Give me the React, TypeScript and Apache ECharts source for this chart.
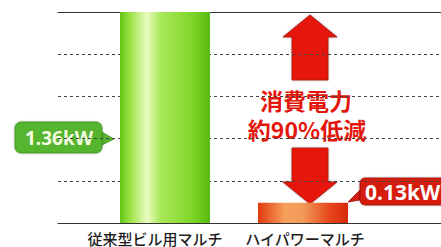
import React, { useEffect, useRef } from "react";
import * as echarts from "echarts";

const categories = ["従来型ビル用マルチ", "ハイパワーマルチ"];
const powerKW = [1.36, 0.13];
const unit = "kW";
const reductionLines = ["消費電力", "約90%低減"];

export default function App() {
  const ref = useRef<HTMLDivElement>(null);
  useEffect(() => {
    if (!ref.current) return;
    const chart = echarts.init(ref.current, undefined, { renderer: "svg" });
    const yMax = powerKW[0];
    const greenGrad = new echarts.graphic.LinearGradient(0, 0, 1, 0, [
      { offset: 0, color: "#62c414" },
      { offset: 0.12, color: "#9ee44a" },
      { offset: 0.3, color: "#eafcc0" },
      { offset: 0.45, color: "#a8e85a" },
      { offset: 0.8, color: "#80d628" },
      { offset: 1, color: "#58bb10" },
    ]);
    const redGrad = new echarts.graphic.LinearGradient(0, 0, 1, 0, [
      { offset: 0, color: "#e2380e" },
      { offset: 0.3, color: "#f6a15c" },
      { offset: 0.5, color: "#f39a58" },
      { offset: 0.8, color: "#e6461a" },
      { offset: 1, color: "#d62a0c" },
    ]);
    const arrowColor = "#e6170d";
    const labelStyle = { fontSize: 15, lineHeight: 16, color: "#1e1e1e", fontFamily: "Noto Sans CJK JP", fontWeight: 500 };
    const bigText = {
      fontSize: 23,
      fontWeight: "bold",
      fontFamily: "Noto Sans CJK JP",
      fill: "#e3160c",
      stroke: "#ffffff",
      lineWidth: 3,
      align: "center",
      verticalAlign: "middle",
    };
    chart.setOption({
      animation: false,
      grid: [
        { left: 58, right: 0, top: 12, bottom: 24 },
        { left: 96, right: 69, top: 12, bottom: 24 },
      ],
      xAxis: [
        {
          gridIndex: 0,
          type: "value",
          min: 0,
          max: 1,
          position: "bottom",
          axisLine: { show: true, lineStyle: { color: "#333", width: 1.2 } },
          axisTick: { show: false },
          axisLabel: { show: false },
          splitLine: { show: false },
        },
        {
          gridIndex: 0,
          type: "value",
          min: 0,
          max: 1,
          position: "top",
          axisLine: { show: true, onZero: false, lineStyle: { color: "#333", width: 1.2 } },
          axisTick: { show: false },
          axisLabel: { show: false },
          splitLine: { show: false },
        },
        {
          gridIndex: 1,
          type: "category",
          data: categories,
          axisLine: { show: false },
          axisTick: { show: false },
          axisLabel: {
            interval: 0,
            hideOverlap: false,
            margin: 7,
            ...labelStyle,
            formatter: (v: string, i: number) => (i === 0 ? `{a|${v}}` : `{b|${v}}`),
            rich: {
              a: { ...labelStyle, padding: [0, 20, 0, 0] },
              b: { ...labelStyle, padding: [0, 0, 0, 4] },
            },
          },
        },
      ],
      yAxis: [
        {
          gridIndex: 0,
          type: "value",
          min: 0,
          max: yMax,
          interval: yMax / 5,
          axisLine: { show: false },
          axisTick: { show: false },
          axisLabel: { show: false },
          splitLine: { show: true, lineStyle: { color: "#444", type: [3, 3], width: 1 } },
        },
        {
          gridIndex: 1,
          type: "value",
          min: 0,
          max: yMax,
          show: false,
          splitLine: { show: false },
        },
      ],
      series: [
        {
          type: "bar",
          xAxisIndex: 2,
          yAxisIndex: 1,
          barWidth: 90,
          data: [
            { value: powerKW[0], itemStyle: { color: greenGrad } },
            { value: powerKW[1], itemStyle: { color: redGrad } },
          ],
        },
      ],
      graphic: [
        {
          type: "polygon",
          shape: {
            points: [
              [310, 15], [337, 37], [328, 37], [328, 80], [292, 80], [292, 37], [283, 37],
            ],
          },
          style: { fill: arrowColor, stroke: "#a8120a", lineWidth: 0.8, shadowBlur: 2, shadowColor: "rgba(0,0,0,0.35)" },
        },
        {
          type: "polygon",
          shape: {
            points: [
              [292, 148], [328, 148], [328, 182], [337, 182], [310, 204], [283, 182], [292, 182],
            ],
          },
          style: { fill: arrowColor, stroke: "#a8120a", lineWidth: 0.8, shadowBlur: 2, shadowColor: "rgba(0,0,0,0.35)" },
        },
        {
          type: "text",
          x: 306,
          y: 100,
          style: { ...bigText, text: reductionLines[0] },
        },
        {
          type: "text",
          x: 307,
          y: 129,
          style: { ...bigText, text: reductionLines[1] },
        },
        {
          type: "polygon",
          shape: { points: [[100, 131], [114, 139], [100, 146]] },
          style: { fill: "#55b52d", stroke: "#3f8f1f", lineWidth: 0.8 },
        },
        {
          type: "rect",
          shape: { x: 15, y: 122, width: 87, height: 31, r: 6 },
          style: { fill: "#55b52d", stroke: "#3f8f1f", lineWidth: 0.8, shadowBlur: 2, shadowColor: "rgba(0,0,0,0.3)" },
        },
        {
          type: "text",
          x: 59,
          y: 138,
          style: {
            text: `${powerKW[0]}${unit}`,
            fontSize: 19,
            fontWeight: "bold",
            fontFamily: "Noto Sans",
            fill: "#f4fbe0",
            align: "center",
            verticalAlign: "middle",
          },
        },
        {
          type: "polygon",
          shape: { points: [[362, 188], [348, 202], [366, 199]] },
          style: { fill: "#d51a10", stroke: "#9a0e08", lineWidth: 0.8 },
        },
        {
          type: "rect",
          shape: { x: 360, y: 178, width: 90, height: 27, r: 5 },
          style: { fill: "#d51a10", stroke: "#9a0e08", lineWidth: 0.8, shadowBlur: 2, shadowColor: "rgba(0,0,0,0.3)" },
        },
        {
          type: "text",
          x: 365,
          y: 192,
          style: {
            text: `${powerKW[1]}${unit}`,
            fontSize: 21,
            fontWeight: "bold",
            fontFamily: "Noto Sans",
            fill: "#ffffff",
            align: "left",
            verticalAlign: "middle",
          },
        },
      ],
    });
    return () => chart.dispose();
  }, []);
  return (
    <div
      ref={ref}
      style={{ position: "fixed", left: 0, top: 0, width: 441, height: 247, background: "#ffffff" }}
    />
  );
}
